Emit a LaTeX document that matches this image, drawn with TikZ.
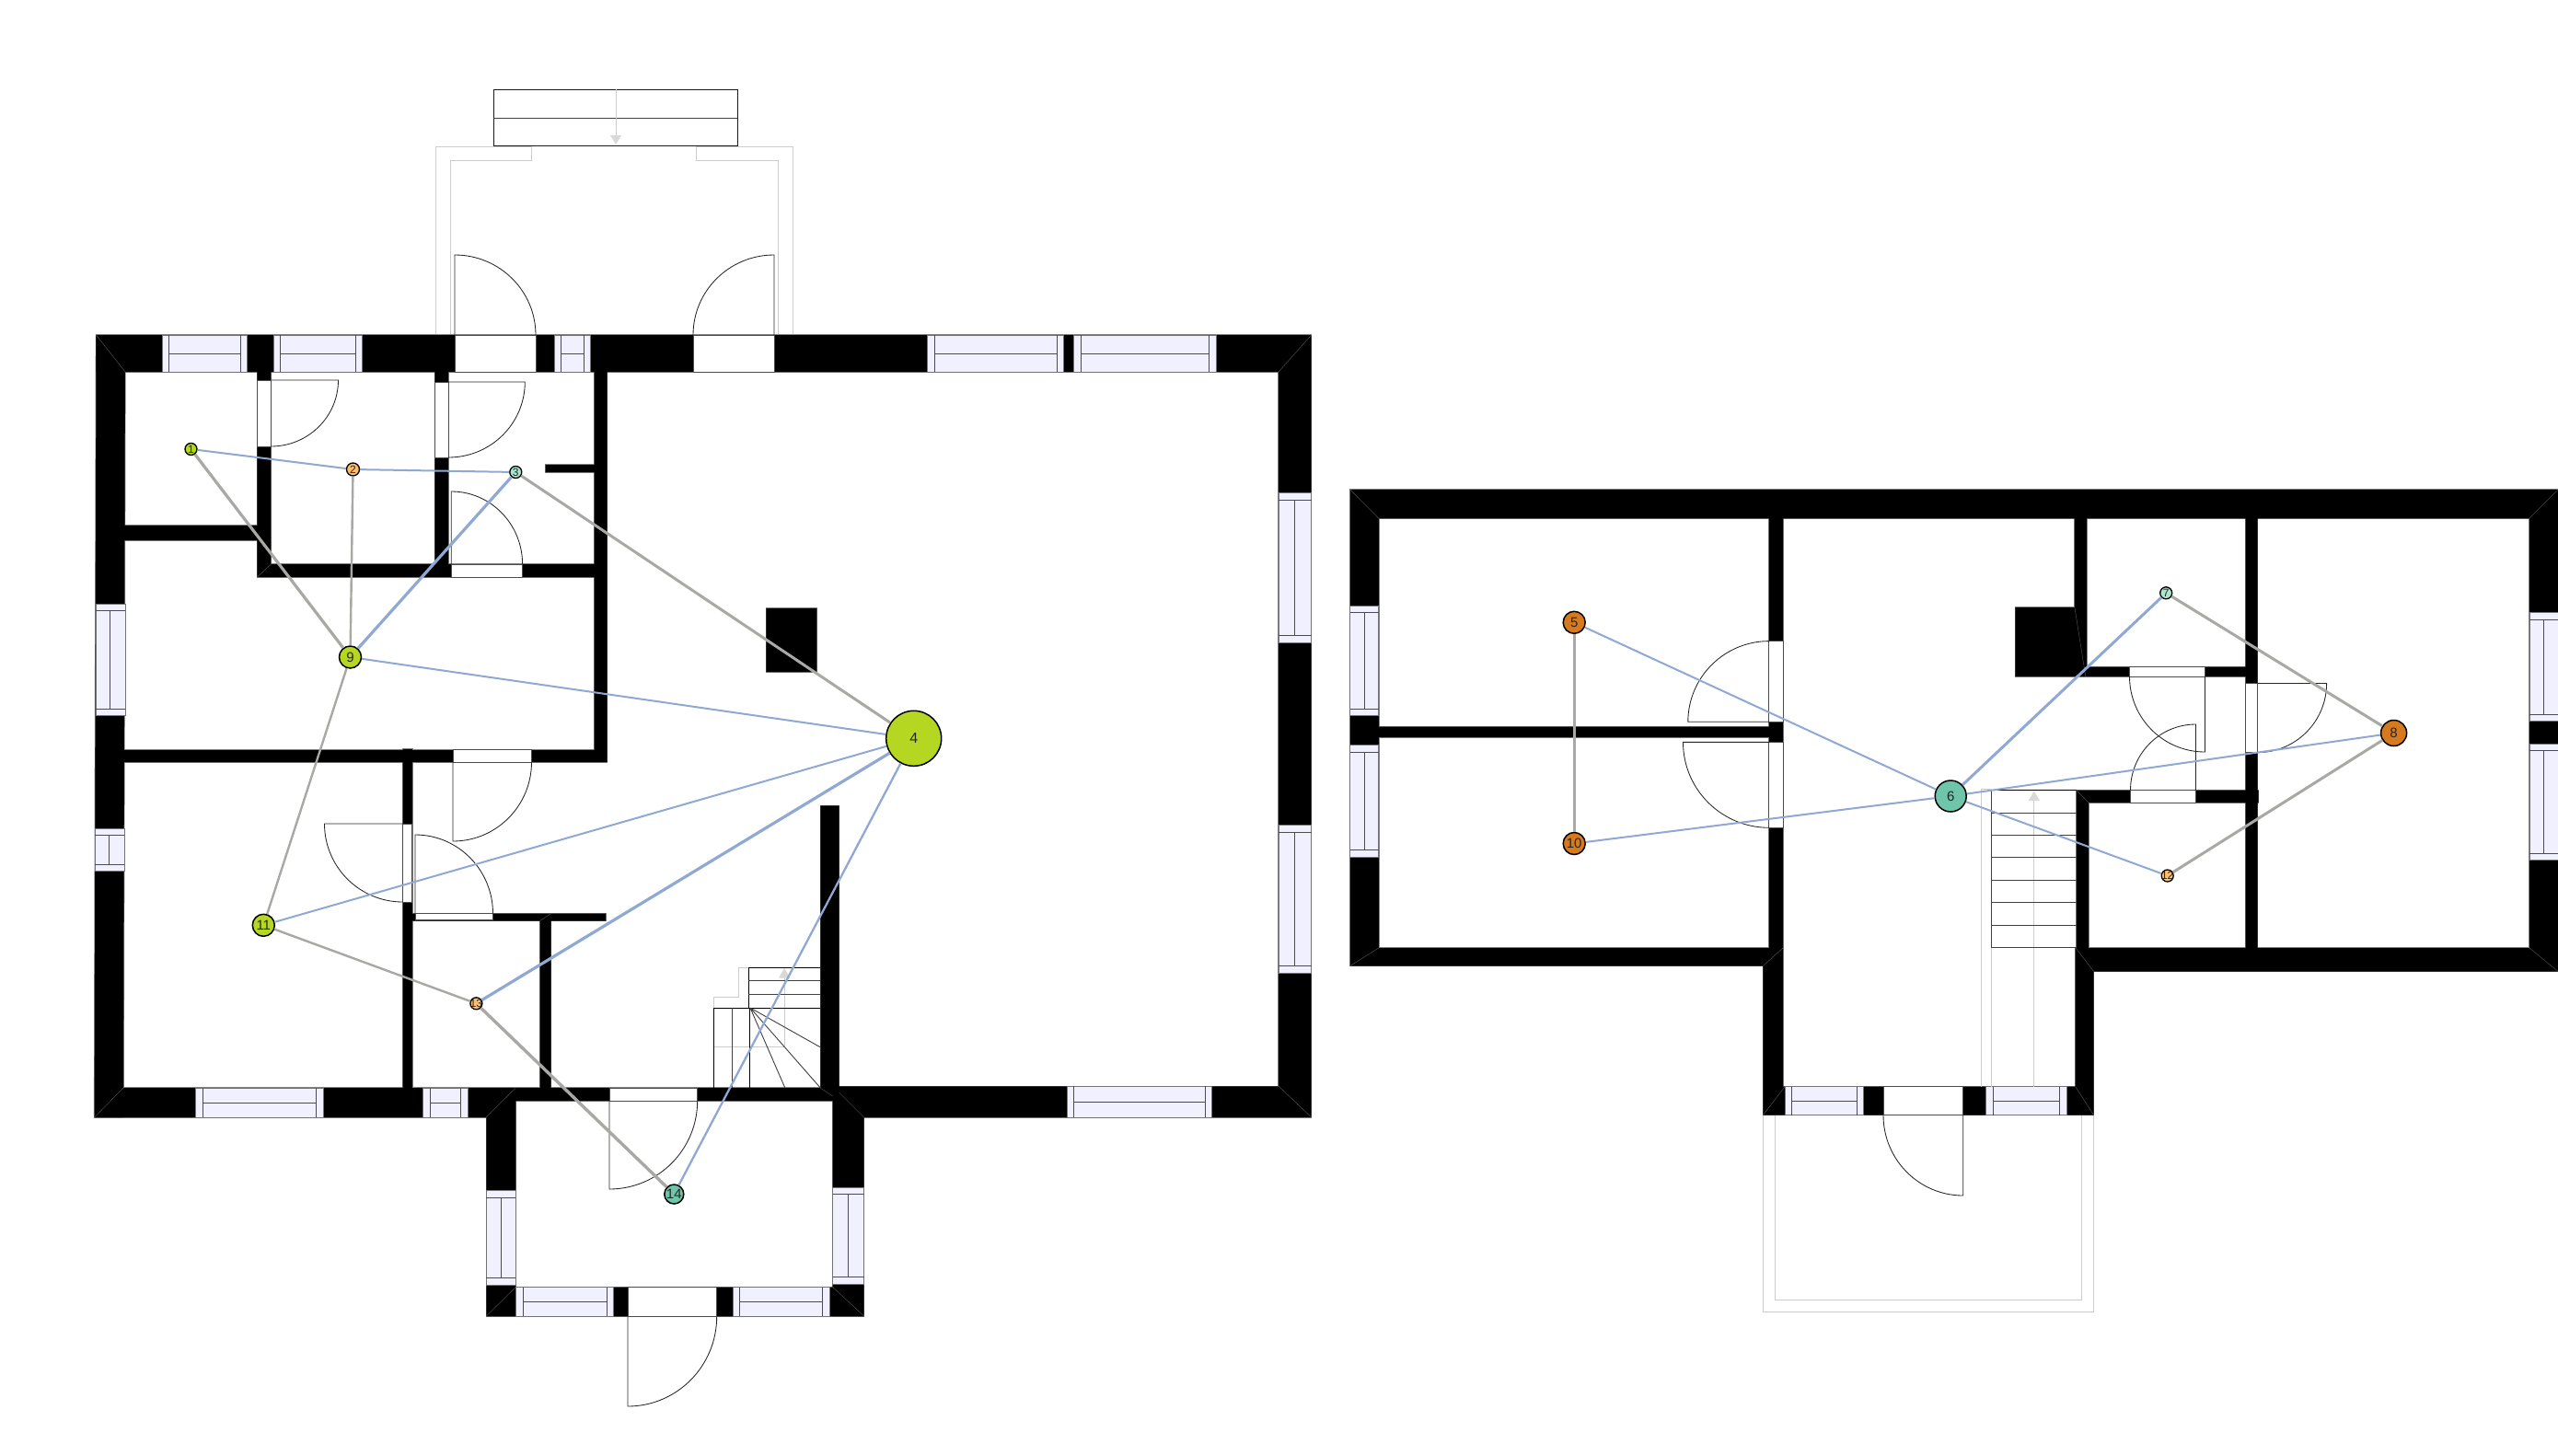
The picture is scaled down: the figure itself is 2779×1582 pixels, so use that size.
\documentclass[tikz,border=0pt]{standalone}
\usepackage{fontspec}
\setmainfont{Liberation Sans}
\definecolor{winfill}{HTML}{F0F0FF}
\definecolor{porch}{HTML}{CCCCCC}
\definecolor{edgeblue}{HTML}{8FA8D4}
\definecolor{edgegray}{HTML}{A8A8A4}
\definecolor{lime}{HTML}{B5D722}
\definecolor{teal}{HTML}{6EC5A9}
\definecolor{mint}{HTML}{A8E6CF}
\definecolor{apricot}{HTML}{FDBF6F}
\definecolor{ochre}{HTML}{D57A1E}
\tikzset{
  porchline/.style={draw=porch,line width=1},
  winbox/.style={fill=winfill,draw=black!55,line width=1},
  winbar/.style={draw=black!70,line width=1},
  opening/.style={fill=white,draw=black!70,line width=1},
  doorline/.style={draw=black!85,line width=0.85},
  stairline/.style={draw=black!75,line width=1},
  miter/.style={draw=black!65,line width=0.4},
  nd/.style={circle,draw=black,line width=1.5,inner sep=0pt,text=black!85,font=\fontsize{15}{15}\selectfont},
  ndsmall/.style={nd,line width=1.3,font=\fontsize{12}{12}\selectfont},
  bluelink/.style={draw=edgeblue,line width=2},
  graylink/.style={draw=edgegray,line width=2.4},
  arrowhd/.style={fill=black!15,draw=none}
}
\newcommand{\lab}[1]{\makebox[0pt]{#1}}
\newcommand{\wallpath}{
  (104.5,364) rectangle (1424.7,404)
  (1389,364) rectangle (1424.7,1214)
  (103,1182) rectangle (560.3,1214)
  (528.3,1182) rectangle (560.3,1430.3)
  (560.3,1182) rectangle (904.7,1196)
  (904.7,1180.4) rectangle (1424.7,1214)
  (904.7,1180.4) rectangle (938.7,1430.3)
  (528.3,1398.5) rectangle (938.7,1430.3)
  (279.4,404) rectangle (294.4,627)
  (135,571) rectangle (279.4,587)
  (279.4,613) rectangle (659.5,627)
  (472.3,404) rectangle (487.2,627)
  (645.7,404) rectangle (659.5,828)
  (592.5,505) rectangle (645.7,513)
  (135,815) rectangle (659.5,828)
  (437.5,814) rectangle (447.8,1214)
  (447.8,992.5) rectangle (658,1000.5)
  (586.7,992.5) rectangle (598.7,1182)
  (891.3,875.3) rectangle (911.7,1182)
  (832.3,661) rectangle (887.3,730)
  (1466.8,532) rectangle (2779,563.3)
  (1466.8,532) rectangle (1497.8,1049.5)
  (1497.8,789.6) rectangle (1921.9,801)
  (1466.8,1030) rectangle (1937,1049.5)
  (1921.9,532) rectangle (1937.2,1030)
  (1915.3,1030) rectangle (1937.2,1211.7)
  (1915.3,1180.7) rectangle (2274.7,1211.7)
  (2254.7,1030) rectangle (2274.7,1211.7)
  (2255.8,858.5) rectangle (2268.8,1030)
  (2255,1030) rectangle (2779,1055.5)
  (2748,532) rectangle (2779,1055.5)
  (2253.9,532) rectangle (2266.8,735)
  (2189.3,660) rectangle (2266,735)
  (2266,724.6) rectangle (2452.5,735)
  (2439.6,532) rectangle (2452.5,1055)
  (2255.8,858.5) rectangle (2453.5,872)
}
\newcommand{\leftwallpath}{(104.5,364) -- (136,364) -- (134,1214) -- (102.6,1214) -- cycle}
% horizontal window: x1,bar1,bar2,x2,y1,ymid,y2
\newcommand{\winh}[7]{
  \path[winbox] (#1,#5) rectangle (#4,#7);
  \draw[winbar] (#2,#5) -- (#2,#7) (#3,#5) -- (#3,#7) (#2,#6) -- (#3,#6);
}
% vertical window: y1,bar1,bar2,y2,x1,xmid,x2
\newcommand{\winv}[7]{
  \path[winbox] (#5,#1) rectangle (#7,#4);
  \draw[winbar] (#5,#2) -- (#7,#2) (#5,#3) -- (#7,#3) (#6,#2) -- (#6,#3);
}
% door: opening x1,y1,x2,y2 then hinge, tip, jamb
\newcommand{\dooropen}[4]{\path[opening] (#1,#2) rectangle (#3,#4);}
\newcommand{\doorleaf}[6]{
  \pgfmathsetmacro{\dax}{#3+.5523*(#5-#1)}
  \pgfmathsetmacro{\day}{#4+.5523*(#6-#2)}
  \pgfmathsetmacro{\dbx}{#5+.5523*(#3-#1)}
  \pgfmathsetmacro{\dby}{#6+.5523*(#4-#2)}
  \draw[doorline] (#1,#2) -- (#3,#4) .. controls (\dax,\day) and (\dbx,\dby) .. (#5,#6);
}
\begin{document}
\begin{tikzpicture}[x=1pt,y=-1pt]
\useasboundingbox (0,0) rectangle (2779,1582);
\fill[white] (0,0) rectangle (2779,1582);

% porches and floor-above outlines
\draw[porchline] (473,364) -- (473,159) -- (577,159) -- (577,174) -- (489,174) -- (489,364);
\draw[porchline] (861,364) -- (861,159) -- (756,159) -- (756,174) -- (845,174) -- (845,364);
\draw[porchline] (1915.3,1211.7) -- (1915.3,1425.3) -- (2274.7,1425.3) -- (2274.7,1211.7);
\draw[porchline] (1928.7,1211.7) -- (1928.7,1412.3) -- (2261.7,1412.3) -- (2261.7,1211.7);

% outdoor steps
\draw[stairline,draw=black!90,line width=.9] (536,97) rectangle (801,158);
\draw[stairline] (536,128) -- (801,128);
\draw[porchline] (669,97) -- (669,150);
\fill[arrowhd] (663,147) -- (675,147) -- (669,157) -- cycle;

% walls: outline pass, then fill pass hiding the seams
\draw[draw=black!50,line width=1.4,fill=black] \wallpath;
\draw[draw=black!50,line width=1.4,fill=black] \leftwallpath;
\fill[black] \wallpath;
\fill[black] \leftwallpath;
\draw[miter] (104.5,364) -- (136,404) (1424.7,364) -- (1389,404) (102.6,1214) -- (134,1182)
  (1424.7,1214) -- (1389,1180) (528,1214) -- (560.3,1182) (938.7,1214) -- (911.7,1187)
  (891,1182) -- (904.7,1191) (279.4,627) -- (294.4,613) (528.3,1430) -- (560.3,1398.5)
  (938.7,1430) -- (904.7,1398.5) (586.7,1000.5) -- (598.7,992.5)
  (1466.8,532) -- (1497.8,563.3) (1466.8,1049.5) -- (1497.8,1030) (1915.3,1049.5) -- (1937,1030)
  (1915.3,1211.7) -- (1939,1180.7) (2274.7,1211.7) -- (2254.7,1180.7) (2255,1030) -- (2274.7,1055.5)
  (2748,1030) -- (2779,1055.5) (2748,563) -- (2779,532) (2255.8,858.5) -- (2268.8,872)
  (2253.9,660) -- (2265.8,735);

% windows, ground floor
\winh{176.5}{183.8}{261.4}{268.7}{364}{384}{404}
\winh{297}{304.7}{386.6}{393}{364}{384}{404}
\winh{602}{609}{634}{641}{364}{384}{404}
\winh{1007.7}{1015.3}{1148}{1155.3}{364}{384.3}{404}
\winh{1166.7}{1174.3}{1313.3}{1321}{364}{384.3}{404}
\winv{656}{663}{770}{777}{104}{119}{136}
\winv{900}{907}{939}{946}{103}{118.7}{135}
\winv{535.7}{543}{690.7}{698}{1389}{1406.7}{1424.7}
\winv{896.7}{904.3}{1049.3}{1057}{1389}{1406.7}{1424.7}
\winh{212.5}{220.5}{343.3}{351}{1182}{1198}{1214}
\winh{459.7}{467}{500.6}{508}{1182}{1198}{1214}
\winh{1159.3}{1166.7}{1309.3}{1316.7}{1180}{1197}{1214}
\winv{1293.7}{1301}{1388.6}{1396}{528.3}{544.3}{560.3}
\winv{1290.6}{1297.5}{1387.8}{1395}{904.7}{921.7}{938.7}
\winh{560.3}{568}{659.3}{666.3}{1398.5}{1414.6}{1430.3}
\winh{796.7}{803.7}{893.7}{901}{1398.5}{1414.6}{1430.3}
% windows, upper floor
\winv{658.4}{665.4}{770.3}{777.6}{1466.8}{1482.5}{1497.8}
\winv{809.6}{817}{923.5}{931}{1466.8}{1482.5}{1497.8}
\winv{665.7}{673}{776}{783}{2748}{2763.5}{2779}
\winv{808.6}{815.5}{927.4}{934.6}{2748}{2763.5}{2779}
\winh{1939}{1946}{2017.7}{2024.7}{1180.7}{1196.3}{1211.7}
\winh{2157.7}{2165}{2237.7}{2245.3}{1180.7}{1196.3}{1211.7}

% doors, ground floor
\dooropen{494}{364}{582}{404} \doorleaf{494}{364}{494}{277}{582}{364}
\dooropen{753}{364}{841}{404} \doorleaf{841}{364}{841}{277}{753}{364}
\dooropen{279.4}{413}{294.4}{485} \doorleaf{294.4}{413}{367.5}{413}{294.4}{485}
\dooropen{472.3}{415}{487.2}{497} \doorleaf{487.2}{415}{570.3}{415}{487.2}{497}
\dooropen{490.3}{613}{567.6}{627} \doorleaf{490.3}{613}{490.3}{534}{567.6}{613}
\dooropen{492}{814}{577.5}{828} \doorleaf{492}{828}{492}{914}{577.5}{828}
\dooropen{437.5}{895}{447.8}{980} \doorleaf{437.5}{895}{352.5}{895}{437.5}{980}
\dooropen{451}{992.5}{535.5}{999} \doorleaf{451}{992.5}{451}{907}{535.5}{992.5}
\dooropen{662}{1182}{757.7}{1196} \doorleaf{662}{1196}{662}{1292}{757.7}{1196}
\dooropen{682}{1398.5}{778.7}{1430.3} \doorleaf{682}{1430.3}{682}{1528}{778.7}{1430.3}
% doors, upper floor
\dooropen{1921.9}{696.6}{1937.2}{784.3} \doorleaf{1921.9}{784.3}{1833.8}{784.3}{1921.9}{696.6}
\dooropen{1921.9}{806.4}{1937.2}{899.3} \doorleaf{1921.9}{806.4}{1828.5}{806.4}{1921.9}{899.3}
\dooropen{2313.5}{724.6}{2395.4}{735} \doorleaf{2395.4}{735}{2395.4}{817}{2313.5}{735}
\dooropen{2439.6}{742.5}{2452.5}{817.6} \doorleaf{2452.5}{742.5}{2527.6}{742.5}{2452.5}{817.6}
\dooropen{2314.5}{858.5}{2385.5}{872} \doorleaf{2385.5}{858.5}{2385.5}{787}{2314.5}{858.5}
\dooropen{2046}{1180.7}{2132.7}{1211.7} \doorleaf{2132.7}{1211.7}{2132.7}{1299}{2046}{1211.7}

% ground-floor staircase
\draw[porchline] (813.3,1051.3) -- (802.7,1051.3) -- (802.7,1083.3) -- (775.7,1083.3) -- (775.7,1095);
\draw[porchline,line width=.9] (852.7,1062) -- (852.7,1137.7) -- (775.7,1137.7);
\fill[arrowhd] (852.2,1051.7) -- (858,1062.7) -- (846,1062.7) -- cycle;
\draw[stairline,draw=black] (891,1051.3) -- (813.3,1051.3) -- (813.3,1095);
\draw[stairline] (813.3,1065.7) -- (891,1065.7) (813.3,1080.3) -- (891,1080.3);
\draw[stairline,draw=black] (775.7,1095) -- (891,1095);
\draw[stairline,draw=black] (775.7,1095) -- (775.7,1181.7);
\draw[stairline] (795,1095) -- (795,1181.7);
\draw[stairline,draw=black] (814,1095) -- (814,1181.7);
\draw[stairline,line width=.9] (815,1095) -- (891,1137.7) (815,1095) -- (891,1181.7) (815,1095) -- (852.7,1181.7);

% upper-floor staircase
\draw[porchline] (2163.4,857.5) -- (2152.7,857.5) -- (2152.7,1180.7);
\draw[porchline] (2163.3,1029.7) -- (2163.3,1180.7);
\draw[porchline,line width=.9] (2209.5,870) -- (2209.5,1180.7);
\fill[arrowhd] (2209.7,859.6) -- (2216,870) -- (2203.7,870) -- cycle;
\draw[stairline,draw=black] (2163.4,858.5) -- (2255.8,858.5);
\draw[stairline] (2163.4,858.5) -- (2163.4,1029.7);
\draw[stairline] (2163.4,883) -- (2255.8,883) (2163.4,907.4) -- (2255.8,907.4)
  (2163.4,931.9) -- (2255.8,931.9) (2163.4,956.3) -- (2255.8,956.3)
  (2163.4,980.8) -- (2255.8,980.8) (2163.4,1005.2) -- (2255.8,1005.2);
\draw[stairline,line width=1.3] (2163.4,1029.7) -- (2255.8,1029.7);

% graph nodes
\node[ndsmall,fill=lime,minimum size=13] (n1) at (207.5,488) {\lab{1}};
\node[ndsmall,fill=apricot,minimum size=14] (n2) at (383.5,510) {\lab{2}};
\node[ndsmall,fill=mint,minimum size=13] (n3) at (560.3,513) {\lab{3}};
\node[nd,fill=lime,minimum size=60,font=\fontsize{16}{16}\selectfont] (n4) at (992.7,802.3) {\lab{4}};
\node[nd,fill=ochre,minimum size=24] (n5) at (1710.2,676.3) {\lab{5}};
\node[nd,fill=teal,minimum size=34] (n6) at (2119.2,865) {\lab{6}};
\node[ndsmall,fill=mint,minimum size=13] (n7) at (2353.2,644.3) {\lab{7}};
\node[nd,fill=ochre,minimum size=28] (n8) at (2600.6,796.5) {\lab{8}};
\node[nd,fill=lime,minimum size=24] (n9) at (380.5,714) {\lab{9}};
\node[nd,fill=ochre,minimum size=24] (n10) at (1710.2,916.5) {\lab{10}};
\node[nd,fill=lime,minimum size=24] (n11) at (286.3,1005.3) {\lab{11}};
\node[ndsmall,fill=apricot,minimum size=13] (n12) at (2354.7,951.5) {\lab{12}};
\node[ndsmall,fill=apricot,minimum size=13] (n13) at (517.4,1090.3) {\lab{13}};
\node[nd,fill=teal,minimum size=21] (n14) at (732.3,1297.5) {\lab{14}};

% connectors
\draw[bluelink] (n1) -- (n2);
\draw[bluelink] (n2) -- (n3);
\draw[bluelink,line width=3.2] (n3) -- (n9);
\draw[bluelink] (n9) -- (n4);
\draw[bluelink] (n11) -- (n4);
\draw[bluelink,line width=3.2] (n13) -- (n4);
\draw[bluelink,line width=2.3] (n14) -- (n4);
\draw[bluelink] (n5) -- (n6);
\draw[bluelink] (n10) -- (n6);
\draw[bluelink,line width=3] (n7) -- (n6);
\draw[bluelink] (n8) -- (n6);
\draw[bluelink] (n12) -- (n6);
\draw[graylink,line width=3.2] (n1) -- (n9);
\draw[graylink] (n2) -- (n9);
\draw[graylink,line width=3] (n3) -- (n4);
\draw[graylink] (n9) -- (n11);
\draw[graylink] (n11) -- (n13);
\draw[graylink,line width=3.4] (n13) -- (n14);
\draw[graylink,line width=3] (n5) -- (n10);
\draw[graylink,line width=3] (n7) -- (n8);
\draw[graylink,line width=3] (n12) -- (n8);
\end{tikzpicture}
\end{document}
